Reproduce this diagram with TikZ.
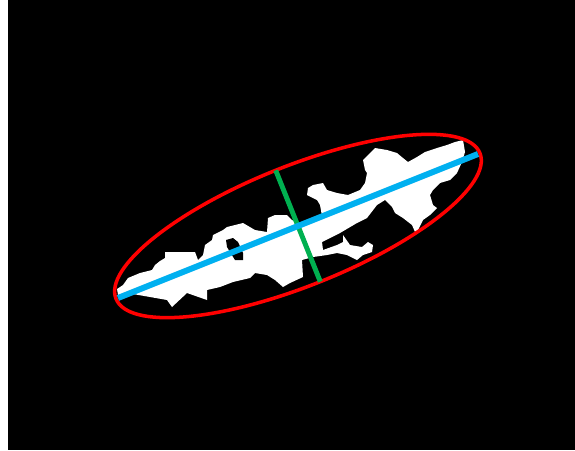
\documentclass[tikz,border=0pt]{standalone}
\usepackage{tikz}
\usetikzlibrary{positioning,calc}
\definecolor{majblue}{RGB}{0,176,240}
\definecolor{mingreen}{RGB}{0,176,80}

\begin{document}
\begin{tikzpicture}[x=0.02cm, y=-0.02cm,
    blob/.style={fill=white},
    ring/.style={draw=red, line width=2pt},
    majoraxis/.style={draw=majblue, line width=3.4pt},
    minoraxis/.style={draw=mingreen, line width=2.8pt}]
                    % frame
                    \useasboundingbox (0,0) rectangle (575,450);
                    \fill[white] (0,0) rectangle (575,450);
                    \fill[black] (8,0) rectangle (575,450);
                    % region
                    \fill[blob] (117,289) -- (123,285) -- (128,278) -- (140,273) -- (152,270) -- (155,265)
                        -- (160,261) -- (165,258) -- (165,252) -- (195,252) -- (198,260) -- (203,255)
                        -- (205,245) -- (212,240) -- (213,235) -- (223,230) -- (227,227) -- (243,223)
                        -- (255,230) -- (267,232) -- (268,218) -- (275,215) -- (287,215) -- (292,220)
                        -- (300,225) -- (322,216) -- (320,205) -- (317,200) -- (307,195) -- (308,188)
                        -- (313,185) -- (323,183) -- (327,190) -- (337,193) -- (348,195) -- (360,190)
                        -- (365,183) -- (367,173) -- (365,170) -- (363,160) -- (370,153) -- (375,148)
                        -- (387,150) -- (397,153) -- (403,158) -- (408,162) -- (417,157) -- (425,152)
                        -- (437,148) -- (447,145) -- (455,142) -- (463,140) -- (465,152) -- (462,162)
                        -- (457,173) -- (450,180) -- (440,183) -- (433,190) -- (430,195) -- (433,205)
                        -- (437,208) -- (430,215) -- (423,220) -- (418,230) -- (415,232) -- (412,225)
                        -- (403,218) -- (395,213) -- (392,207) -- (385,200) -- (377,205) -- (367,218)
                        -- (357,223) -- (340,233) -- (330,238) -- (322,242) -- (323,250) -- (337,245)
                        -- (343,242) -- (343,235) -- (350,245) -- (362,247) -- (368,242) -- (373,245)
                        -- (372,252) -- (363,255) -- (357,260) -- (347,255) -- (337,253) -- (327,255)
                        -- (313,257) -- (302,260) -- (303,277) -- (290,283) -- (283,287) -- (275,280)
                        -- (267,275) -- (255,273) -- (250,278) -- (233,282) -- (220,287) -- (207,290)
                        -- (207,300) -- (187,293) -- (172,307) -- (167,300) -- (150,297) -- (127,293)
                        -- (118,295) -- cycle;
                    \fill[black] (226,240) -- (233,238) -- (238,242) -- (243,253) -- (243,260)
                        -- (235,260) -- (227,247) -- cycle;
                    % fitted ellipse and its axes
                    \coordinate (ctr) at (298,226);
                    \coordinate (majA) at (118,298);
                    \coordinate (majB) at (478,154);
                    \coordinate (minA) at (275.7,170.3);
                    \coordinate (minB) at (320.3,281.7);
                    \draw[ring, rotate around={21.8:(ctr)}] (ctr) ellipse [x radius=196, y radius=60];
                    \draw[minoraxis] (minA) -- (minB);
                    \draw[majoraxis] (majA) -- (majB);
                \end{tikzpicture}
\end{document}
